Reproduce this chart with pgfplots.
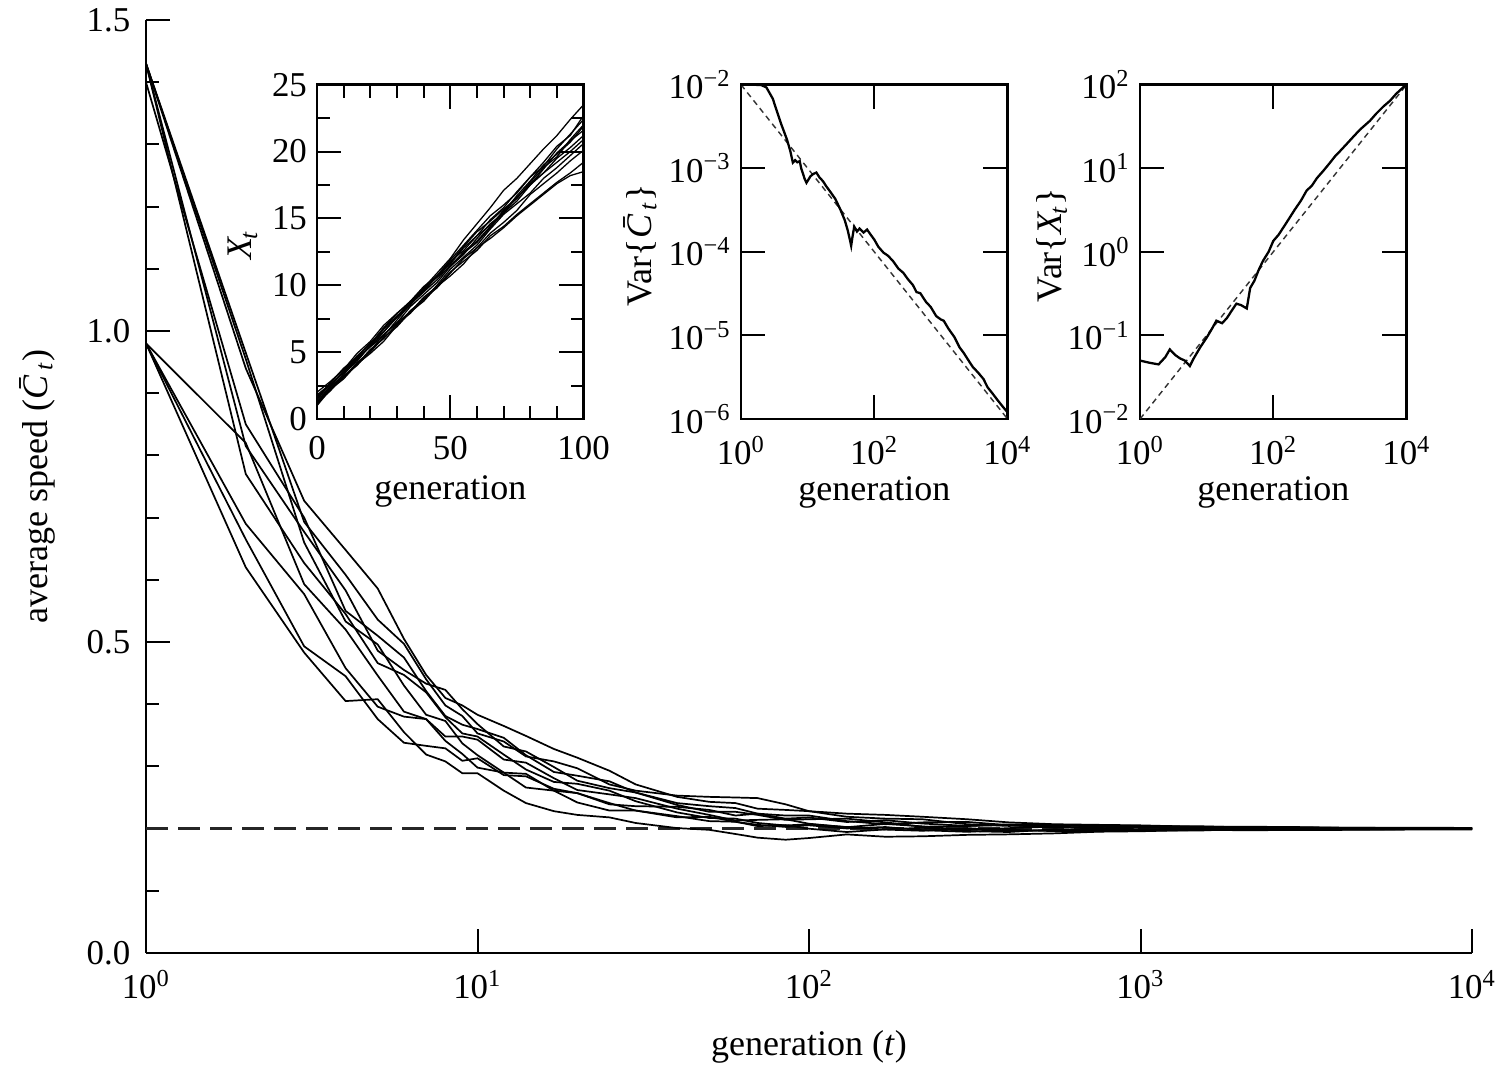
\documentclass[border=0pt]{standalone}
\usepackage{fontspec}
\setmainfont{Liberation Serif}
\usepackage{pgfplots}
\usepackage{pgfplotstable}
\pgfplotsset{compat=1.18}

\newcommand{\ex}[1]{10\textsuperscript{#1}}
\newcommand{\Cbt}{\textit{\=C}\kern-0.12em\textsubscript{\textit{t}}}
\newcommand{\Xt}{\textit{X}\kern-0.08em\textsubscript{\textit{t}}}

\pgfplotstableread{
t A1 A2 A3 A4 A5 A6 B1 B2 B3 B4
1 1.430 1.430 1.430 1.430 1.430 1.400 0.980 0.980 0.980 0.980
2 0.940 0.965 0.770 0.815 0.955 0.850 0.620 0.820 0.690 0.665
3 0.727 0.693 0.627 0.677 0.660 0.700 0.483 0.593 0.577 0.493
4 0.648 0.608 0.545 0.583 0.533 0.550 0.405 0.520 0.458 0.445
5 0.586 0.536 0.466 0.486 0.496 0.510 0.408 0.446 0.396 0.376
6 0.505 0.497 0.447 0.455 0.430 0.475 0.355 0.388 0.380 0.338
7 0.447 0.440 0.419 0.433 0.383 0.421 0.319 0.376 0.376 0.333
8 0.410 0.398 0.379 0.423 0.373 0.381 0.308 0.348 0.341 0.329
9 0.398 0.381 0.353 0.392 0.337 0.367 0.289 0.348 0.320 0.309
10 0.383 0.353 0.348 0.368 0.318 0.360 0.289 0.343 0.298 0.313
12 0.365 0.340 0.319 0.332 0.290 0.346 0.261 0.311 0.290 0.286
14 0.349 0.316 0.295 0.324 0.288 0.318 0.241 0.306 0.266 0.284
17 0.328 0.308 0.275 0.299 0.261 0.291 0.228 0.281 0.261 0.264
20 0.314 0.297 0.272 0.277 0.257 0.285 0.222 0.262 0.242 0.257
25 0.293 0.271 0.261 0.265 0.241 0.276 0.218 0.255 0.229 0.239
30 0.271 0.261 0.244 0.258 0.229 0.258 0.209 0.249 0.229 0.236
40 0.251 0.253 0.226 0.238 0.218 0.241 0.2008 0.232 0.220 0.235
50 0.243 0.251 0.217 0.227 0.219 0.236 0.198 0.222 0.212 0.230
60 0.241 0.250 0.216 0.227 0.211 0.233 0.1913 0.213 0.211 0.221
70 0.232 0.249 0.209 0.222 0.206 0.224 0.1854 0.214 0.2040 0.224
85 0.230 0.239 0.205 0.214 0.2027 0.221 0.1821 0.215 0.2056 0.216
100 0.228 0.228 0.207 0.215 0.2053 0.221 0.1848 0.2078 0.1998 0.2178
130 0.224 0.219 0.2025 0.216 0.2002 0.212 0.1906 0.2022 0.1945 0.2106
170 0.222 0.216 0.1984 0.210 0.2025 0.207 0.1869 0.2075 0.1987 0.2134
220 0.219 0.215 0.1965 0.203 0.1974 0.210 0.1876 0.2035 0.2013 0.2081
300 0.215 0.207 0.2008 0.2041 0.1948 0.2107 0.1899 0.1976 0.1959 0.2043
400 0.210 0.2043 0.1968 0.2068 0.1981 0.2055 0.1907 0.2007 0.1945 0.2057
550 0.207 0.2050 0.1968 0.2059 0.1959 0.2022 0.1923 0.2032 0.1987 0.2014
750 0.206 0.2050 0.1990 0.2030 0.1956 0.2003 0.1950 0.2010 0.1970 0.2030
1000 0.2052 0.2042 0.1972 0.2032 0.1982 0.2022 0.1957 0.1988 0.1988 0.2033
1500 0.2028 0.2038 0.1968 0.2002 0.1995 0.2021 0.1979 0.1985 0.1999 0.2012
2000 0.2031 0.2021 0.1991 0.2006 0.1986 0.2019 0.1974 0.1999 0.1986 0.2019
3000 0.2024 0.2007 0.1987 0.2014 0.1984 0.2001 0.1976 0.2009 0.1996 0.2019
4500 0.2012 0.1998 0.1985 0.2014 0.1994 0.2005 0.1980 0.2002 0.1988 0.2006
7000 0.2013 0.2002 0.1995 0.2006 0.1992 0.2005 0.1984 0.1997 0.1995 0.2010
10000 0.2011 0.2004 0.1997 0.1999 0.1993 0.2006 0.1986 0.1995 0.1993 0.2010
}\maindata

\pgfplotstableread{
t L1 L2 L3 L4 L5 L6 L7 L8 L9 L10 L11 L12
0 1.5 1.2 1.7 1.0 1.4 2.0 1.2 1.6 1.1 1.5 1.3 1.8
5 2.6 2.4 2.5 2.2 2.3 2.8 2.1 2.7 2.3 2.4 2.2 2.6
10 3.5 3.3 3.6 3.4 3.1 3.7 3.2 3.8 3.2 3.6 3.0 3.5
15 4.7 4.5 4.4 4.3 4.2 4.9 4.0 4.6 4.1 4.7 4.1 4.6
20 5.6 5.4 5.5 5.5 5.0 5.8 5.1 5.7 5.2 5.6 4.9 5.4
25 6.8 6.2 6.3 6.7 6.1 7.0 6.3 6.5 6.0 6.8 5.8 6.5
30 7.7 7.4 7.2 7.6 6.9 7.9 7.2 7.6 7.1 7.9 7.0 7.7
35 8.6 8.6 8.0 8.5 8.0 8.7 8.4 8.8 7.9 8.8 8.1 8.6
40 9.8 9.5 9.1 9.7 8.8 9.8 9.3 9.9 9.0 9.6 8.9 9.5
45 10.9 10.7 9.9 10.6 9.9 10.6 10.2 10.7 9.8 10.7 10.0 10.4
50 12.0 11.8 11.0 11.4 10.7 11.7 11.4 11.6 10.9 11.9 11.2 11.5
55 13.4 12.6 11.8 12.5 11.6 12.9 12.3 12.8 12.0 13.0 12.1 12.4
60 14.6 13.7 12.6 13.3 12.8 14.0 13.5 13.7 12.8 14.1 13.0 13.2
65 15.8 14.9 13.7 14.4 13.5 14.8 14.6 14.5 13.9 15.2 14.2 14.3
70 17.1 15.8 14.4 15.6 14.3 15.7 15.4 15.4 14.7 16.0 15.3 15.5
75 18.0 17.0 15.3 16.5 15.2 16.5 16.3 16.6 15.6 16.9 16.1 16.7
80 19.1 18.1 16.1 17.7 16.0 17.6 17.5 17.5 16.8 18.1 16.9 17.8
85 20.2 18.9 16.9 18.8 16.8 18.4 18.4 18.7 17.6 19.2 18.0 19.0
90 21.2 20.2 17.7 19.6 17.6 19.5 19.2 19.9 18.4 20.4 18.8 19.8
95 22.4 21.3 18.4 20.9 18.2 20.3 20.0 20.8 19.3 21.2 19.7 20.7
100 23.5 22.4 19.2 22.0 18.5 21.2 20.9 21.6 20.1 22.7 20.6 21.9
}\xdata

\pgfplotstableread{
t v
1 0.0100
1.5 0.0100
2 0.0099
2.4 0.0093
3 0.0068
3.4 0.0050
4 0.0034
4.9 0.0022
5.5 0.0016
6 0.00117
6.5 0.00125
7 0.00118
7.6 0.00122
8 0.00100
9 0.00075
9.6 0.00067
11 0.00080
12 0.00085
13.5 0.00089
15 0.00078
17 0.00070
19 0.00061
22 0.00052
26 0.00043
31 0.00032
36 0.00024
40 0.000180
43 0.000140
45 0.000118
47 0.000150
50 0.000200
55 0.000175
60 0.000190
69 0.000170
78 0.000185
86 0.000165
100 0.000140
115 0.000115
137 0.000098
160 0.000090
190 0.000078
230 0.000063
273 0.000056
320 0.000047
380 0.000040
430 0.000033
490 0.000032
600 0.000025
700 0.000022
850 0.000017
1000 0.0000155
1100 0.0000150
1300 0.0000120
1600 0.0000095
1900 0.0000072
2190 0.0000062
2600 0.0000050
3000 0.0000042
3600 0.0000036
4360 0.0000030
5000 0.0000024
6000 0.0000020
7000 0.0000017
8500 0.0000014
10000 0.0000012
}\varcdata

\pgfplotstableread{
t v
1 0.050
1.4 0.047
1.9 0.045
2.4 0.055
2.8 0.068
3.4 0.058
4 0.053
4.7 0.050
5.6 0.043
6.3 0.052
7 0.060
8 0.072
10 0.094
12 0.120
14 0.150
17 0.140
20 0.160
24 0.200
28 0.240
33 0.230
40 0.210
45 0.370
52 0.450
60 0.600
70 0.780
85 1.00
100 1.35
120 1.60
150 2.10
178 2.60
210 3.20
260 4.10
316 5.40
380 6.20
450 7.60
562 9.30
700 11.5
850 14.0
1000 16.0
1260 19.5
1600 24.0
2000 29.0
2400 33.0
2820 37.0
3500 45.0
4500 55.0
5620 64.0
7000 78.0
8900 93.0
10000 100.0
}\varxdata

\begin{document}
\begin{tikzpicture}
\pgfplotsset{
  every axis/.append style={
    scale only axis,
    tick align=inside,
    tick style={black, line width=0.7pt},
    major tick length=8.5pt,
    minor tick length=4.5pt,
    tick label style={font=\fontsize{12.2}{13}\selectfont},
    label style={font=\fontsize{12.6}{14}\selectfont},
    axis line style={line width=0.9pt},
    xticklabel style={yshift=-2.5pt},
  },
}
\path[use as bounding box] (-51.1pt,-39.9pt) rectangle (473.55pt,333.55pt);

% main axis
\begin{axis}[
  at={(0pt,0pt)}, anchor=south west,
  width=464.1pt, height=326.55pt,
  xmode=log, xmin=1, xmax=10000, ymin=0, ymax=1.5,
  axis x line*=bottom, axis y line*=left,
  axis line style={-, line width=1pt},
  xtick={1,10,100,1000,10000},
  xticklabels={\ex{0},\ex{1},\ex{2},\ex{3},\ex{4}},
  xminorticks=false,
  ytick={0,0.5,1,1.5}, yticklabels={0.0,0.5,1.0,1.5},
  yticklabel style={xshift=-2pt},
  minor ytick={0.1,0.2,0.3,0.4,0.6,0.7,0.8,0.9,1.1,1.2,1.3,1.4},
  xlabel={generation (\textit{t})},
  ylabel={average speed (\Cbt)},
  xlabel style={at={(axis description cs:0.5,-0.1008)}, anchor=center},
  ylabel style={at={(axis description cs:-0.0819,0.5)}, anchor=center},
]
\addplot[black!85, line width=1.1pt, dash pattern=on 7.7pt off 3.5pt] coordinates {(1,0.2) (10000,0.2)};
\foreach \c in {A1,A2,A3,A4,A5,A6,B1,B2,B3,B4}{
  \addplot[black, line width=0.6pt] table[x=t, y=\c] {\maindata};
}
\end{axis}

% inset 1
\begin{axis}[
  at={(59.85pt,186.9pt)}, anchor=south west,
  width=93.3pt, height=117pt,
  xmin=0, xmax=100, ymin=0, ymax=25,
  xtick={0,50,100}, xticklabels={0,50,100},
  minor xtick={10,20,30,40,60,70,80,90},
  ytick={0,5,10,15,20,25}, yticklabels={0,5,10,15,20,25},
  minor ytick={2.5,7.5,12.5,17.5,22.5},
  xlabel={generation},
  ylabel={\Xt},
  xlabel style={at={(axis description cs:0.5,-0.218)}, anchor=center},
  ylabel style={at={(axis description cs:-0.278,0.52)}, anchor=center},
]
\foreach \c in {L1,L2,L3,L4,L5,L6,L7,L8,L9,L10,L11,L12}{
  \addplot[black, line width=0.45pt] table[x=t, y=\c] {\xdata};
}
\end{axis}

% inset 2
\begin{axis}[
  at={(208.25pt,186.9pt)}, anchor=south west,
  width=93.3pt, height=117pt,
  xmode=log, ymode=log,
  xmin=1, xmax=10000, ymin=1e-6, ymax=1e-2,
  xtick={1,100,10000}, xticklabels={\ex{0},\ex{2},\ex{4}},
  ytick={1e-6,1e-5,1e-4,1e-3,1e-2},
  yticklabels={\ex{−6},\ex{−5},\ex{−4},\ex{−3},\ex{−2}},
  xminorticks=false, yminorticks=false,
  xlabel={generation},
  ylabel={Var\{\Cbt\}},
  xlabel style={at={(axis description cs:0.5,-0.221)}, anchor=center},
  ylabel style={at={(axis description cs:-0.379,0.52)}, anchor=center},
]
\addplot[black!80, line width=0.5pt, dash pattern=on 2pt off 1.5pt] coordinates {(1,0.01) (10000,0.000001)};
\addplot[black, line width=0.8pt] table[x=t, y=v] {\varcdata};
\end{axis}

% inset 3
\begin{axis}[
  at={(347.9pt,186.9pt)}, anchor=south west,
  width=93.3pt, height=117pt,
  xmode=log, ymode=log,
  xmin=1, xmax=10000, ymin=1e-2, ymax=1e2,
  xtick={1,100,10000}, xticklabels={\ex{0},\ex{2},\ex{4}},
  ytick={1e-2,1e-1,1,10,100},
  yticklabels={\ex{−2},\ex{−1},\ex{0},\ex{1},\ex{2}},
  xminorticks=false, yminorticks=false,
  xlabel={generation},
  ylabel={Var\{\Xt\}},
  xlabel style={at={(axis description cs:0.5,-0.221)}, anchor=center},
  ylabel style={at={(axis description cs:-0.33,0.52)}, anchor=center},
]
\addplot[black!80, line width=0.5pt, dash pattern=on 2pt off 1.5pt] coordinates {(1,0.01) (10000,100)};
\addplot[black, line width=0.8pt] table[x=t, y=v] {\varxdata};
\end{axis}
\end{tikzpicture}
\end{document}
